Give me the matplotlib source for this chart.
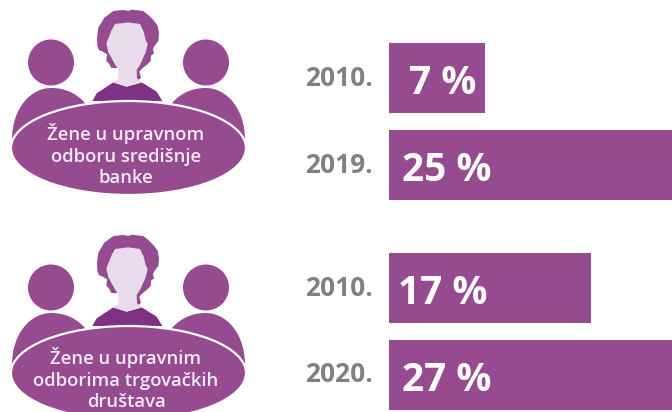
import matplotlib
matplotlib.use("Agg")
import matplotlib.pyplot as plt
from matplotlib.patches import Circle, Ellipse, Polygon, PathPatch
from matplotlib.path import Path

purple = "#964a8f"
dark_purple = "#7f3284"
face = "#e8dbec"
grey = "#808083"

years_top = ["2010.", "2019."]
values_top = [7, 25]
years_bottom = ["2010.", "2020."]
values_bottom = [17, 27]
label_top = "Žene u upravnom\nodboru središnje\nbanke"
label_bottom = "Žene u upravnim\nodborima trgovačkih\ndruštava"

plt.rcParams["font.family"] = ["Open Sans", "DejaVu Sans"]

W, H = 672, 412
fig = plt.figure(figsize=(W / 100, H / 100), dpi=100)

# overlay in pixel coords for the people drawings
bg = fig.add_axes([0, 0, 1, 1])
bg.set_xlim(0, W)
bg.set_ylim(H, 0)
bg.axis("off")

hair_pts = [(130, 18), (140, 14), (175, 18), (190, 30), (205, 45), (218, 62), (222, 85), (220, 108), (209, 122),
            (204, 132), (207, 145), (198, 152), (197, 168), (185, 180), (172, 190), (163, 200), (168, 218),
            (160, 226), (152, 218), (150, 195), (120, 130), (110, 180), (92, 190), (78, 188), (72, 175), (64, 168),
            (66, 148), (50, 138), (42, 136), (37, 122), (36, 100), (40, 68), (58, 38), (85, 18), (115, 15)]
face_pts = [(130, 52), (165, 57), (176, 80), (182, 105), (188, 118), (182, 142), (165, 180), (155, 195), (156, 220),
            (172, 232), (125, 245), (83, 232), (100, 222), (100, 195), (90, 178), (70, 142), (64, 115), (70, 100),
            (80, 75), (90, 57)]
shoulder_pts = [(22, 288), (35, 265), (85, 232), (125, 245), (170, 232), (215, 260), (232, 288)]


def zoomed(pts, dy):
    return [(85 + x / 3, 5 + y / 3 + dy) for x, y in pts]


def side_body(cx, sign, dy):
    # rounded shoulders of the two side figures, the table covers the bottom
    v = [(cx - sign * 39, 140 + dy), (cx - sign * 39, 108 + dy), (cx - sign * 20, 88 + dy), (cx, 88 + dy),
         (cx + sign * 14, 88 + dy), (cx + sign * 25, 93 + dy), (cx + sign * 34, 103 + dy), (cx + sign * 34, 140 + dy),
         (cx - sign * 39, 140 + dy)]
    codes = [Path.MOVETO] + [Path.CURVE4] * 6 + [Path.LINETO, Path.CLOSEPOLY]
    return PathPatch(Path(v, codes), fc=purple, ec="none")


def draw_people(dy, label, text_y):
    for cx, sign in [(51, 1), (206, -1)]:
        bg.add_patch(Circle((cx, 62.5 + dy), 23, fc=purple, ec="none"))
        bg.add_patch(side_body(cx, sign, dy))
    bg.add_patch(Polygon(zoomed(hair_pts, dy), fc=purple, ec="none"))
    bg.add_patch(Polygon(zoomed(shoulder_pts, dy), fc=dark_purple, ec="none"))
    bg.add_patch(Polygon(zoomed(face_pts, dy), fc=face, ec="none"))
    bg.add_patch(Ellipse((128.5, 148 + dy), 235, 94, fc=purple, ec="white", lw=1.6))
    bg.text(126, text_y, label, color="#f3ebf3", fontsize=13.3, fontweight="semibold", ha="center", va="center",
            linespacing=1.25)


draw_people(0, label_top, 155)
draw_people(225, label_bottom, 379)


def draw_bars(top_px, left_px, years, values, pads):
    # 87 px between bar centres, x scale 10.6 px per percent point
    base = -2.05
    ax = fig.add_axes([left_px / W, 1 - (top_px + 174) / H, (W - left_px) / W, 174 / H])
    ax.patch.set_alpha(0)
    ax.barh([0, 1], [v - base for v in values], left=base, height=0.805, color=purple)
    ax.set_xlim(base, base + (W - left_px) / 10.6)
    ax.set_ylim(1.5, -0.5)
    ax.set_yticks([0, 1], years)
    ax.set_xticks([])
    ax.tick_params(axis="y", length=0, pad=12, labelcolor=grey, labelsize=19)
    for t in ax.get_yticklabels():
        t.set_fontweight("bold")
        t.set_verticalalignment("center")
    for s in ax.spines.values():
        s.set_visible(False)
    for i, v in enumerate(values):
        ax.text(base + pads[i], i + 0.01, f"{v} %", color="white", fontsize=28, fontweight="bold",
                va="center_baseline", ha="left")


draw_bars(34.5, 389, years_top, values_top, [1.9, 1.2])
draw_bars(244.5, 389, years_bottom, values_bottom, [0.85, 1.2])

fig.savefig("out.png", dpi=100)
